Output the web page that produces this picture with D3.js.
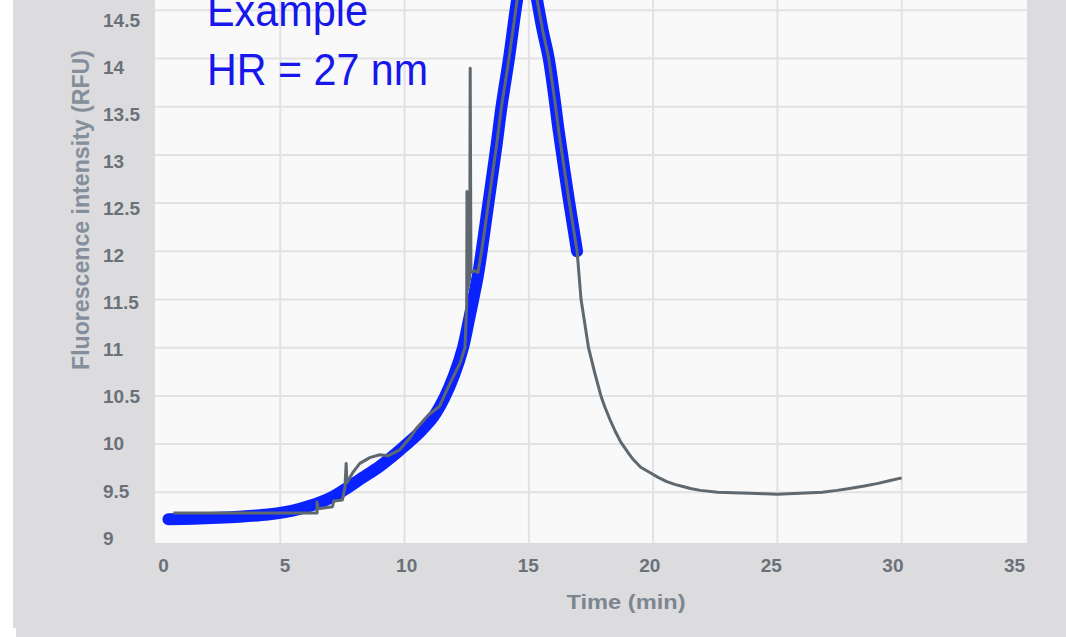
<!DOCTYPE html>
<html>
<head>
<meta charset="utf-8">
<script src="https://cdn.jsdelivr.net/npm/d3@7"></script>
<style>
  html, body { margin: 0; padding: 0; background: #ffffff; }
  svg { display: block; }
</style>
</head>
<body>
<svg id="chart" width="1066" height="637"></svg>
<script>
// ---------- data ----------
const xTicks = [0, 5, 10, 15, 20, 25, 30, 35];
const yTicks = [9, 9.5, 10, 10.5, 11, 11.5, 12, 12.5, 13, 13.5, 14, 14.5];
const yTickLabels = ["9", "9.5", "10", "10.5", "11", "11.5", "12", "12.5", "13", "13.5", "14", "14.5"];

// fitted curve (blue)
const fitTime  = [0.5, 1.5, 2.5, 3.5, 4.5, 5.5, 6.2, 7.0, 7.6, 8.3, 9.0, 9.5, 10.0, 10.6, 11.15, 11.6, 12.0, 12.35, 12.56, 12.76, 12.95, 13.1, 13.4, 13.7, 13.9, 14.2, 14.53, 14.75, 14.95, 15.15, 15.3, 15.55, 15.8, 16.05, 16.2, 16.6, 16.94];
const fitValue = [9.22, 9.225, 9.235, 9.25, 9.27, 9.31, 9.36, 9.44, 9.53, 9.65, 9.77, 9.87, 9.98, 10.12, 10.28, 10.48, 10.72, 11.0, 11.25, 11.5, 11.75, 12.0, 12.55, 13.1, 13.5, 14.0, 14.61, 14.9, 15.0, 14.85, 14.65, 14.3, 14.0, 13.55, 13.25, 12.55, 12.0];

// measured data (grey)
const dataTime  = [0.7, 6.4, 6.48, 6.48, 6.52, 7.1, 7.15, 7.5, 7.6, 7.65, 7.68, 7.93, 8.2, 8.6, 9.0, 9.35, 9.8, 10.2, 10.5, 10.95, 11.4, 11.7, 12.0, 12.23, 12.43, 12.5, 12.51, 12.53, 12.62, 12.64, 12.67, 12.8, 12.95, 13.1, 13.4, 13.7, 13.9, 14.2, 14.53, 14.75, 14.95, 15.15, 15.3, 15.55, 15.8, 16.05, 16.2, 16.6, 16.94, 17.1, 17.25, 17.4, 17.65, 17.9, 18.05, 18.27, 18.5, 18.7, 19.0, 19.2, 19.5, 19.9, 20.2, 20.55, 20.9, 21.2, 21.5, 21.9, 22.6, 23.2, 23.9, 24.5, 25.0, 25.9, 26.8, 27.4, 27.9, 28.5, 29.0, 29.5, 30.0];
const dataValue = [9.285, 9.285, 9.285, 9.40, 9.33, 9.35, 9.41, 9.42, 9.55, 9.80, 9.60, 9.71, 9.80, 9.86, 9.89, 9.88, 9.94, 10.06, 10.17, 10.30, 10.39, 10.56, 10.72, 10.84, 11.0, 11.45, 12.62, 11.6, 11.72, 13.9, 11.78, 11.8, 11.78, 12.0, 12.55, 13.1, 13.5, 14.0, 14.61, 14.9, 15.0, 14.85, 14.65, 14.3, 14.0, 13.55, 13.25, 12.55, 12.0, 11.5, 11.25, 11.0, 10.74, 10.5, 10.39, 10.25, 10.12, 10.02, 9.91, 9.84, 9.76, 9.70, 9.655, 9.61, 9.58, 9.56, 9.54, 9.52, 9.50, 9.495, 9.49, 9.485, 9.48, 9.49, 9.50, 9.52, 9.54, 9.565, 9.59, 9.62, 9.65];

const annotationLines = ["Example", "HR = 27 nm"];
const xTitle = "Time (min)";
const yTitle = "Fluorescence intensity (RFU)";

// ---------- layout ----------
const svg = d3.select("#chart");
const plot = { left: 155, right: 1027, top: -60, bottom: 543 };

svg.append("rect").attr("x", 13).attr("y", 0).attr("width", 1053).attr("height", 628).attr("fill", "#dcdcde");
svg.append("rect").attr("x", 16).attr("y", 628).attr("width", 1050).attr("height", 9).attr("fill", "#dcdcde");
svg.append("rect").attr("x", plot.left).attr("y", plot.top)
   .attr("width", plot.right - plot.left).attr("height", plot.bottom - plot.top)
   .attr("fill", "#f9f9f9");

const x = d3.scaleLinear().domain([0, 35]).range([156, 1026]);
const y = d3.scaleLinear().domain([9, 15]).range([540.5, 540.5 - 96.4 * 6]);

// label scales (labels in the source are placed slightly off the grid)
const xLab = d3.scaleLinear().domain([0, 35]).range([163, 1014]);
const yLab = d3.scaleLinear().domain([9, 14.5]).range([538, 20]);

// grid
const grid = svg.append("g").attr("stroke", "#e2e2e2").attr("stroke-width", 2);
grid.selectAll("line.v").data(xTicks.filter(d => d > 0 && d < 35)).join("line")
  .attr("x1", d => x(d)).attr("x2", d => x(d)).attr("y1", plot.top).attr("y2", plot.bottom);
grid.selectAll("line.h").data(yTicks.filter(d => d > 9)).join("line")
  .attr("y1", d => y(d)).attr("y2", d => y(d)).attr("x1", plot.left).attr("x2", plot.right);

// axes (labels only)
const xAxis = svg.append("g").attr("transform", "translate(0,555)")
  .call(d3.axisBottom(xLab).tickValues(xTicks).tickSize(0).tickFormat(d3.format("d")));
xAxis.select(".domain").remove();
xAxis.selectAll("text")
  .attr("font-family", "'Liberation Sans', Arial, sans-serif")
  .attr("font-weight", "bold").attr("font-size", 19).attr("fill", "#6a7179");

const yAxis = svg.append("g").attr("transform", "translate(103,0)")
  .call(d3.axisRight(yLab).tickValues(yTicks).tickSize(0).tickPadding(0)
    .tickFormat((d, i) => yTickLabels[i]));
yAxis.select(".domain").remove();
yAxis.selectAll("text")
  .attr("font-family", "'Liberation Sans', Arial, sans-serif")
  .attr("font-weight", "bold").attr("font-size", 19).attr("fill", "#6a7179")
  .attr("text-anchor", "start");

// titles
svg.append("text").attr("x", 626).attr("y", 609).attr("text-anchor", "middle")
  .attr("font-family", "'Liberation Sans', Arial, sans-serif").attr("font-weight", "bold")
  .attr("font-size", 21).attr("fill", "#7c8690")
  .attr("textLength", 119).attr("lengthAdjust", "spacingAndGlyphs")
  .text(xTitle);
svg.append("text").attr("transform", "translate(89,210) rotate(-90)").attr("text-anchor", "middle")
  .attr("font-family", "'Liberation Sans', Arial, sans-serif").attr("font-weight", "bold")
  .attr("font-size", 23).attr("fill", "#858f9b")
  .attr("textLength", 320).attr("lengthAdjust", "spacingAndGlyphs")
  .text(yTitle);

// clip
svg.append("clipPath").attr("id", "clip").append("rect")
  .attr("x", plot.left).attr("y", plot.top)
  .attr("width", plot.right - plot.left).attr("height", plot.bottom - plot.top);
const g = svg.append("g").attr("clip-path", "url(#clip)");

const fitLine = d3.line().x((d, i) => x(fitTime[i])).y((d, i) => y(fitValue[i])).curve(d3.curveCatmullRom);
g.append("path").datum(fitValue).attr("d", fitLine)
  .attr("fill", "none").attr("stroke", "#0a22ff").attr("stroke-width", 12)
  .attr("stroke-linecap", "round").attr("stroke-linejoin", "round");

const dataLine = d3.line().x((d, i) => x(dataTime[i])).y((d, i) => y(dataValue[i]));
g.append("path").datum(dataValue).attr("d", dataLine)
  .attr("fill", "none").attr("stroke", "#5e686e").attr("stroke-width", 3)
  .attr("stroke-linejoin", "round");

// annotation
svg.selectAll("text.ann").data(annotationLines).join("text")
  .attr("class", "ann")
  .attr("x", 207).attr("y", (d, i) => 26 + i * 59)
  .attr("font-family", "'Liberation Sans', Arial, sans-serif")
  .attr("font-size", 44).attr("fill", "#1717ec")
  .attr("textLength", (d, i) => i === 0 ? 161 : 221).attr("lengthAdjust", "spacingAndGlyphs")
  .text(d => d);
</script>
</body>
</html>
